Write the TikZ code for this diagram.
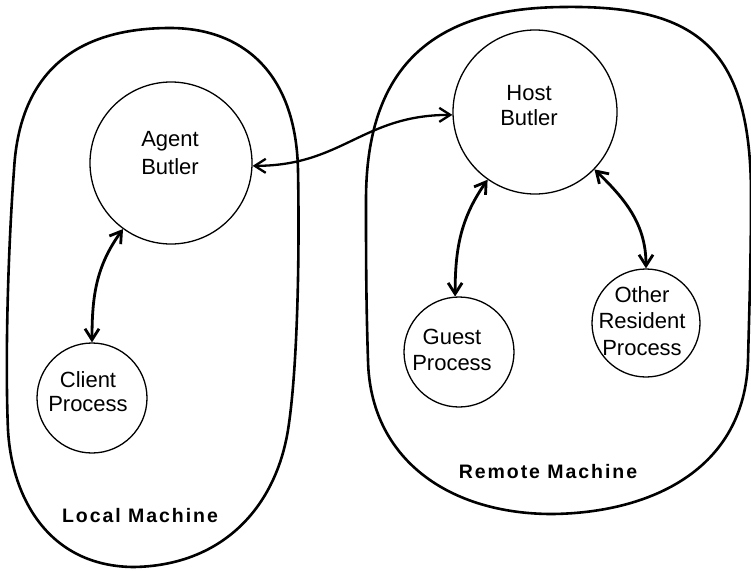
\documentclass[tikz,border=0pt]{standalone}
\usepackage{fontspec}
\setmainfont{Liberation Sans}
\newfontfamily\lblfont[LetterSpace=10]{Liberation Sans}
\usetikzlibrary{arrows.meta}
\newcommand{\mlines}[2]{\fontsize{22}{#1}\selectfont\begin{tabular}[t]{@{}c@{}}#2\end{tabular}}
\begin{document}
\begin{tikzpicture}[x=1pt,y=1pt,
  machine/.style={line width=2.6pt, line join=round},
  proc/.style={circle, draw, line width=1.3pt, inner sep=0pt},
  txt/.style={anchor=base, inner sep=0pt},
  mlabel/.style={anchor=base, inner sep=0pt, font=\lblfont\bfseries\fontsize{19.5}{23}\selectfont},
  barbs/.style={{Straight Barb[length=11pt,width=14pt]}-{Straight Barb[length=11pt,width=14pt]}},
  link/.style={line width=2.8pt, barbs},
  wire/.style={line width=2.3pt, barbs}]
\useasboundingbox (0,0) rectangle (751,-570);

% machines
\draw[machine] (14,-170) .. controls (20,-60) and (90,-28) .. (170,-28)
  .. controls (240,-28) and (296,-70) .. (298,-170)
  .. controls (300,-280) and (296,-380) .. (288,-430)
  .. controls (275,-510) and (220,-566) .. (133,-567)
  .. controls (50,-566) and (12,-500) .. (8,-430)
  .. controls (5,-360) and (8,-250) .. cycle;
\draw[machine] (366,-200) .. controls (366,-60) and (440,-8) .. (563,-7)
  .. controls (700,-5) and (752,-50) .. (751,-200)
  .. controls (751,-260) and (749,-320) .. (748,-360)
  .. controls (745,-470) and (650,-513) .. (552,-514)
  .. controls (450,-514) and (370,-460) .. (368,-360)
  .. controls (366,-300) and (366,-250) .. cycle;

% processes
\node[proc, minimum size=162pt] (agent) at (171,-163) {};
\node[proc, minimum size=164pt] (host) at (535,-112) {};
\node[proc, minimum size=110pt] (client) at (92,-398) {};
\node[proc, minimum size=110pt] (guest) at (459,-352) {};
\node[proc, minimum size=108pt] (other) at (646,-323) {};

\node[txt] (agentt) at (170,-146) {\mlines{28}{Agent\\Butler}};
\node[txt] (hostt) at (529,-100) {\mlines{25}{Host\\Butler}};
\node[txt] (clientt) at (88,-387) {\mlines{24}{Client\\Process}};
\node[txt] (guestt) at (452,-344) {\mlines{26}{Guest\\Process}};
\node[txt] (othert) at (642,-302) {\mlines{26.5}{Other\\Resident\\Process}};

\node[mlabel] (local) at (140,-522) {Local Machine};
\node[mlabel] (remote) at (548,-478) {Remote Machine};

% connectors
\draw[wire] (agent.-2) .. controls +(90,0) and +(-90,0) .. (host.182);
\draw[link] (client.north) to[out=90,in=234] (agent.234);
\draw[link] (guest.94) to[out=90,in=235] (host.235);
\draw[link] (host.-44) to[out=-44,in=90] (other.north);
\end{tikzpicture}
\end{document}
